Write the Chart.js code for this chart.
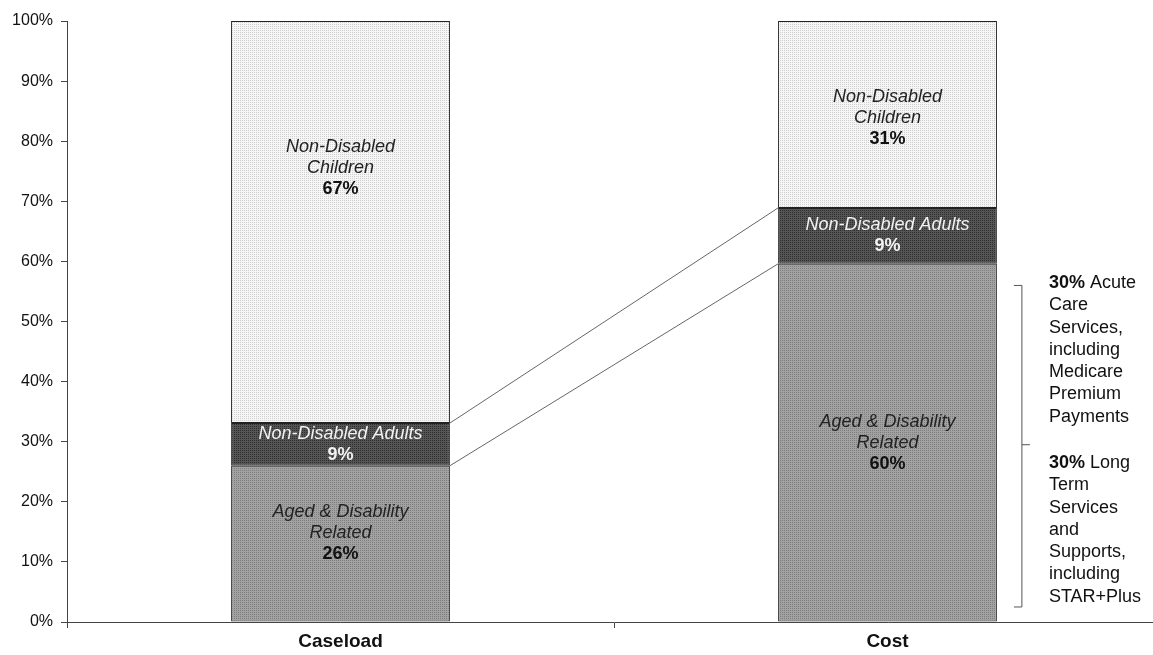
<!DOCTYPE html>
<html>
<head>
<meta charset="utf-8">
<script src="https://cdn.jsdelivr.net/npm/chart.js@4"></script>
<style>
  html, body { margin: 0; padding: 0; background: #fff; overflow: hidden; }
  #wrap { width: 1161px; height: 655px; }
</style>
</head>
<body>
<div id="wrap"><canvas id="chart"></canvas></div>
<script>
// Data (segment heights in %)
const categories = ['Caseload', 'Cost'];
const agedDisability = [26.0, 59.6];
const nonDisabledAdults = [7.1, 9.3];
const nonDisabledChildren = [66.9, 31.1];

// Printed labels in the segments
const agedLabels = ['26%', '60%'];
const adultLabels = ['9%', '9%'];
const childLabels = ['67%', '31%'];

// Bracket note for the cost bar
const acuteNote = ['30%', ' Acute', 'Care', 'Services,', 'including', 'Medicare', 'Premium', 'Payments'];
const ltssNote = ['30%', ' Long', 'Term', 'Services', 'and', 'Supports,', 'including', 'STAR+Plus'];

const FONT = '"Liberation Sans", Arial, sans-serif';

// small dot pattern to mimic the halftone fill
function pattern(a, b) {
    const c = document.createElement('canvas');
    c.width = 2; c.height = 2;
    const g = c.getContext('2d');
    g.fillStyle = a; g.fillRect(0, 0, 2, 2);
    g.fillStyle = b; g.fillRect(0, 0, 1, 1);
    return g.createPattern(c, 'repeat');
}

const overlay = {
    id: 'overlay',
    afterDatasetsDraw(chart) {
        const ctx = chart.ctx;
        const y = chart.scales.y;

        // connector lines between the bars
        ctx.save();
        ctx.strokeStyle = '#666';
        ctx.lineWidth = 1;
        [0, 1].forEach(ds => {
            const els = chart.getDatasetMeta(ds).data;
            const a = els[0], b = els[1];
            ctx.beginPath();
            ctx.moveTo(a.x + a.width / 2, a.y);
            ctx.lineTo(b.x - b.width / 2, b.y);
            ctx.stroke();
        });
        ctx.restore();

        // segment labels
        const names = [['Aged & Disability', 'Related'], ['Non-Disabled Adults'], ['Non-Disabled', 'Children']];
        const pcts = [agedLabels, adultLabels, childLabels];
        const colors = ['#222', '#f2f2f2', '#222'];
        const shift = [[-11, 0], [0, 0], [-54, 4]];
        ctx.save();
        ctx.textAlign = 'center';
        ctx.textBaseline = 'middle';
        for (let ds = 0; ds < 3; ds++) {
            const els = chart.getDatasetMeta(ds).data;
            els.forEach((el, j) => {
                const lines = names[ds].concat([pcts[ds][j]]);
                const lh = 21;
                const cy = (el.y + el.base) / 2 + shift[ds][j];
                let ty = cy - (lines.length - 1) * lh / 2;
                lines.forEach((t, k) => {
                    const last = k === lines.length - 1;
                    ctx.font = (last ? 'bold ' : 'italic ') + '18px ' + FONT;
                    ctx.fillStyle = last && ds !== 1 ? '#111' : colors[ds];
                    ctx.fillText(t, el.x, ty + k * lh);
                });
            });
        }
        ctx.restore();

        // bracket to the right of the cost bar
        const cost = chart.getDatasetMeta(0).data[1];
        const bx = cost.x + cost.width / 2 + 25;
        const top = y.getPixelForValue(56), mid = y.getPixelForValue(29.5), bot = y.getPixelForValue(2.5);
        ctx.save();
        ctx.strokeStyle = '#555';
        ctx.lineWidth = 1;
        ctx.beginPath();
        ctx.moveTo(bx - 8, top); ctx.lineTo(bx, top); ctx.lineTo(bx, bot); ctx.lineTo(bx - 8, bot);
        ctx.moveTo(bx, mid); ctx.lineTo(bx + 8, mid);
        ctx.stroke();

        // bracket text
        ctx.textAlign = 'left';
        ctx.textBaseline = 'middle';
        ctx.fillStyle = '#111';
        const tx = bx + 27, lh = 22.3;
        function block(lines, y0) {
            ctx.font = 'bold 18px ' + FONT;
            ctx.fillText(lines[0], tx, y0);
            const w = ctx.measureText(lines[0]).width;
            ctx.font = '18px ' + FONT;
            ctx.fillText(lines[1], tx + w, y0);
            lines.slice(2).forEach((t, k) => ctx.fillText(t, tx, y0 + (k + 1) * lh));
        }
        block(acuteNote, 283);
        block(ltssNote, 463);
        ctx.restore();
    }
};

const ctx = document.getElementById('chart').getContext('2d');
new Chart(ctx, {
    type: 'bar',
    data: {
        labels: categories,
        datasets: [
            { label: 'Aged & Disability Related', data: agedDisability, backgroundColor: pattern('#a2a2a2', '#7e7e7e') },
            { label: 'Non-Disabled Adults', data: nonDisabledAdults, backgroundColor: pattern('#555555', '#2e2e2e') },
            { label: 'Non-Disabled Children', data: nonDisabledChildren, backgroundColor: pattern('#f6f6f6', '#cfcfcf') },
        ].map(d => Object.assign(d, {
            borderColor: '#222',
            borderWidth: 1,
            borderSkipped: false,
            barPercentage: 0.4,
            categoryPercentage: 1,
        })),
    },
    options: {
        responsive: true,
        maintainAspectRatio: false,
        animation: false,
        layout: { padding: { top: 21, left: 0, right: 0, bottom: 0 } },
        plugins: { legend: { display: false }, tooltip: { enabled: false } },
        scales: {
            x: {
                stacked: true,
                grid: { drawOnChartArea: false, drawTicks: true, tickLength: 6, color: '#444', offset: true },
                border: { color: '#444' },
                ticks: { color: '#111', font: { family: FONT, size: 19, weight: 'bold' }, padding: 2 },
                afterFit(s) { s.height = 33; },
            },
            y: {
                stacked: true,
                min: 0,
                max: 100,
                grid: { drawOnChartArea: false, tickLength: 6, color: '#444' },
                border: { color: '#444' },
                ticks: {
                    stepSize: 10,
                    color: '#111',
                    padding: 8,
                    font: { family: FONT, size: 16 },
                    callback: v => v + '%',
                },
                afterFit(s) { s.width = 67; },
            },
        },
    },
    plugins: [overlay],
});
</script>
</body>
</html>
